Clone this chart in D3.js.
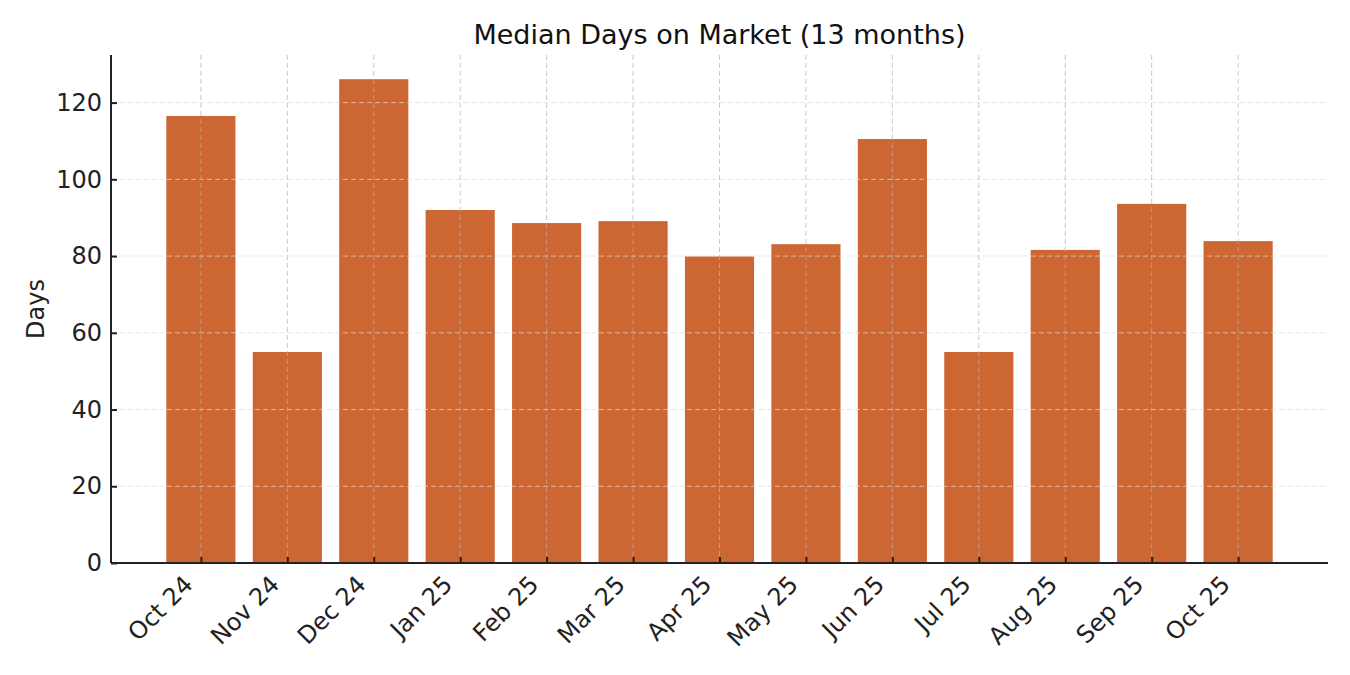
<!DOCTYPE html>
<html>
<head>
<meta charset="utf-8">
<script src="https://cdn.jsdelivr.net/npm/d3@7"></script>
<style>
  body { margin: 0; background: #fff; }
  svg { font-family: "DejaVu Sans", sans-serif; }
</style>
</head>
<body>
<div id="chart"></div>
<script>
// data
const months = ['Oct 24', 'Nov 24', 'Dec 24', 'Jan 25', 'Feb 25', 'Mar 25', 'Apr 25',
                'May 25', 'Jun 25', 'Jul 25', 'Aug 25', 'Sep 25', 'Oct 25'];
const medianDays = [116.5, 55.0, 126.1, 92.0, 88.6, 89.1, 79.9, 83.1, 110.5, 55.0, 81.6, 93.6, 83.9];
const yTicks = [0, 20, 40, 60, 80, 100, 120];

const W = 1350, H = 675;
const plot = { left: 111, right: 1328, top: 55, bottom: 563 };
const barColor = '#cc6633';
const tickFont = '24px';

const svg = d3.select('#chart').append('svg')
    .attr('width', W)
    .attr('height', H);

// x as continuous index so the padding matches the original layout
const x = d3.scaleLinear()
    .domain([-1.04, months.length - 1 + 1.04])
    .range([plot.left, plot.right]);
const barW = x(0.8) - x(0);

const y = d3.scaleLinear()
    .domain([0, d3.max(medianDays) * 1.05])
    .range([plot.bottom, plot.top]);

// bars
svg.append('g')
    .selectAll('rect')
    .data(medianDays)
    .join('rect')
    .attr('x', (d, i) => x(i) - barW / 2)
    .attr('y', d => y(d))
    .attr('width', barW)
    .attr('height', d => y(0) - y(d))
    .attr('fill', barColor);

// grid on top of bars
svg.append('g')
    .selectAll('line')
    .data(yTicks.filter(t => t > 0))
    .join('line')
    .attr('x1', plot.left).attr('x2', plot.right)
    .attr('y1', d => y(d)).attr('y2', d => y(d))
    .attr('stroke', '#dcdcdc')
    .attr('stroke-opacity', 0.7)
    .attr('stroke-width', 1)
    .attr('stroke-dasharray', '5,3');

svg.append('g')
    .selectAll('line')
    .data(months)
    .join('line')
    .attr('x1', (d, i) => x(i)).attr('x2', (d, i) => x(i))
    .attr('y1', plot.top).attr('y2', plot.bottom)
    .attr('stroke', '#b0b0b0')
    .attr('stroke-opacity', 0.7)
    .attr('stroke-width', 1)
    .attr('stroke-dasharray', '5,3');

// y axis
const yAxis = svg.append('g')
    .attr('transform', `translate(${plot.left},0)`)
    .call(d3.axisLeft(y).tickValues(yTicks).tickSize(-6).tickPadding(9));
yAxis.select('.domain')
    .attr('d', `M0,${plot.top}V${plot.bottom}`)
    .attr('stroke', '#222').attr('stroke-width', 2);
yAxis.selectAll('.tick line').attr('stroke', '#222').attr('stroke-width', 2);
yAxis.selectAll('.tick text')
    .attr('fill', '#222')
    .style('font-size', tickFont)
    .style('font-family', '"DejaVu Sans", sans-serif');

// x axis
const xAxis = svg.append('g')
    .attr('transform', `translate(0,${plot.bottom})`)
    .call(d3.axisBottom(x)
        .tickValues(d3.range(months.length))
        .tickFormat(i => months[i])
        .tickSize(-6));
xAxis.select('.domain')
    .attr('d', `M${plot.left},0H${plot.right}`)
    .attr('stroke', '#222').attr('stroke-width', 2);
xAxis.selectAll('.tick line').attr('stroke', '#222').attr('stroke-width', 2);
xAxis.selectAll('.tick text')
    .attr('fill', '#222')
    .style('font-size', tickFont)
    .style('font-family', '"DejaVu Sans", sans-serif')
    .attr('text-anchor', 'end')
    .attr('y', 0)
    .attr('dy', 0)
    .attr('transform', 'translate(-7,23) rotate(-45)');

// labels
svg.append('text')
    .attr('x', (plot.left + plot.right) / 2)
    .attr('y', 44)
    .attr('text-anchor', 'middle')
    .attr('fill', '#111')
    .style('font-size', '27px')
    .text('Median Days on Market (13 months)');

svg.append('text')
    .attr('transform', `translate(44,${(plot.top + plot.bottom) / 2}) rotate(-90)`)
    .attr('text-anchor', 'middle')
    .attr('fill', '#222')
    .style('font-size', tickFont)
    .text('Days');
</script>
</body>
</html>
